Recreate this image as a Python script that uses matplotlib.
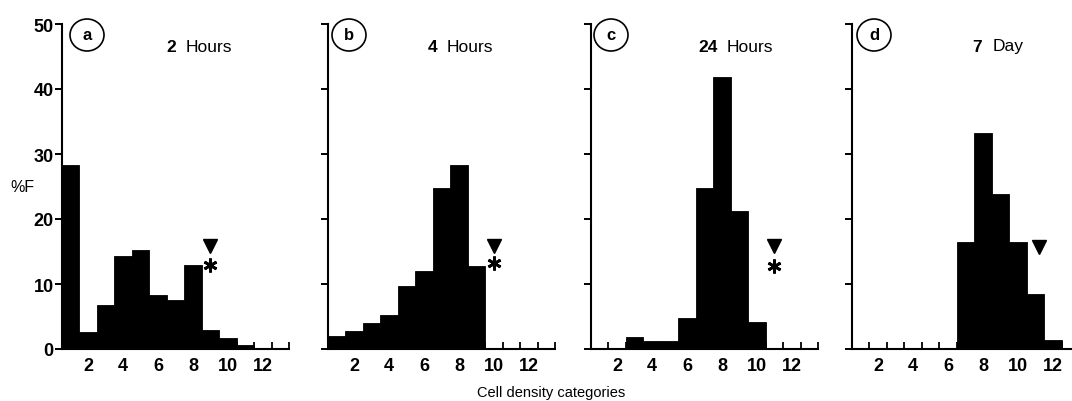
import numpy as np
import matplotlib
matplotlib.use('Agg')
import matplotlib.pyplot as plt
from matplotlib.patches import Ellipse

plt.rcParams['font.family'] = ['Liberation Sans', 'DejaVu Sans']

# cell density categories 1..13, %F in each
categories = np.arange(1, 14)
pct_2h = [28.3, 2.6, 6.7, 14.3, 15.2, 8.3, 7.6, 12.9, 2.9, 1.7, 0.6, 0, 0]
pct_4h = [2.0, 2.8, 4.0, 5.3, 9.7, 12.0, 24.8, 28.3, 12.7, 0, 0, 0, 0]
pct_24h = [0, 0, 1.8, 1.3, 1.3, 4.7, 24.7, 41.8, 21.3, 4.2, 0, 0, 0]
pct_7d = [0, 0, 0, 0, 0, 0, 16.4, 33.2, 23.8, 16.5, 8.4, 1.4, 0]

letters = ['a', 'b', 'c', 'd']
title_num = ['2', '4', '24', '7']
title_unit = ['Hours', 'Hours', 'Hours', 'Day']
# triangle / asterisk marker position (category, %F)
tri_x = [9, 10, 11, 11.2]
tri_y = [15.8, 15.9, 15.8, 15.7]
star_y = [13.0, 13.3, 12.8, None]

all_pct = [pct_2h, pct_4h, pct_24h, pct_7d]

W, H = 1072, 402
fig = plt.figure(figsize=(W / 100, H / 100), dpi=100)

def fx(x):
    return x / W

def fy(y):
    return 1 - y / H

ax_left = [62, 328, 591, 852]
ax_w = 227
ax_top, ax_bot = 25, 350
num_off = [104, 100, 107, 120]
unit_off = [124, 119, 136, 141]
circ_off = [25, 21, 20, 22]

for i in range(4):
    ax = fig.add_axes([fx(ax_left[i]), fy(ax_bot), ax_w / W, (ax_bot - ax_top) / H])
    ax.bar(categories, all_pct[i], width=1.0, color='black', edgecolor='black', linewidth=0.6)
    ax.set_xlim(0.5, 13.5)
    ax.set_ylim(0, 50)
    for s in ['top', 'right']:
        ax.spines[s].set_visible(False)
    for s in ['left', 'bottom']:
        ax.spines[s].set_linewidth(1.5)
    ax.set_yticks([0, 10, 20, 30, 40, 50])
    ax.tick_params(axis='y', direction='out', length=5, width=1.4, pad=1,
                   labelsize=13)
    if i == 0:
        ax.set_yticklabels(['0', '10', '20', '30', '40', '50'], fontweight='bold')
    else:
        ax.set_yticklabels([])
    ax.set_xticks([2, 4, 6, 8, 10, 12])
    ax.set_xticklabels(['2', '4', '6', '8', '10', '12'], fontweight='bold')
    ax.set_xticks(np.arange(1.5, 14, 1.0), minor=True)
    ax.tick_params(axis='x', which='major', length=0, pad=6, labelsize=13)
    ax.tick_params(axis='x', which='minor', direction='in', length=5, width=1.3)

    ax.plot(tri_x[i], tri_y[i], marker='v', color='black', markersize=10, clip_on=False)
    if star_y[i] is not None:
        ax.plot(tri_x[i], star_y[i], marker=(6, 2, 0), color='black', markersize=10,
                markeredgewidth=2.0, clip_on=False)

    cx = ax_left[i] + circ_off[i]
    fig.patches.append(Ellipse((fx(cx), fy(36)), 34 / W, 32 / H, transform=fig.transFigure,
                               fill=False, edgecolor='black', linewidth=1.2))
    fig.text(fx(cx), fy(35), letters[i], ha='center', va='center', fontsize=12,
             fontweight='bold')
    fig.text(fx(ax_left[i] + num_off[i]), fy(47), title_num[i], ha='left', va='center',
             fontsize=12.5, fontweight='bold')
    fig.text(fx(ax_left[i] + unit_off[i]), fy(47), title_unit[i], ha='left', va='center',
             fontsize=12.5)

fig.text(fx(22), fy(187), '%F', ha='center', va='center', fontsize=11.5)
fig.text(fx(551), fy(393), 'Cell density categories', ha='center', va='center', fontsize=10.5)

fig.savefig('out.png', dpi=100)
